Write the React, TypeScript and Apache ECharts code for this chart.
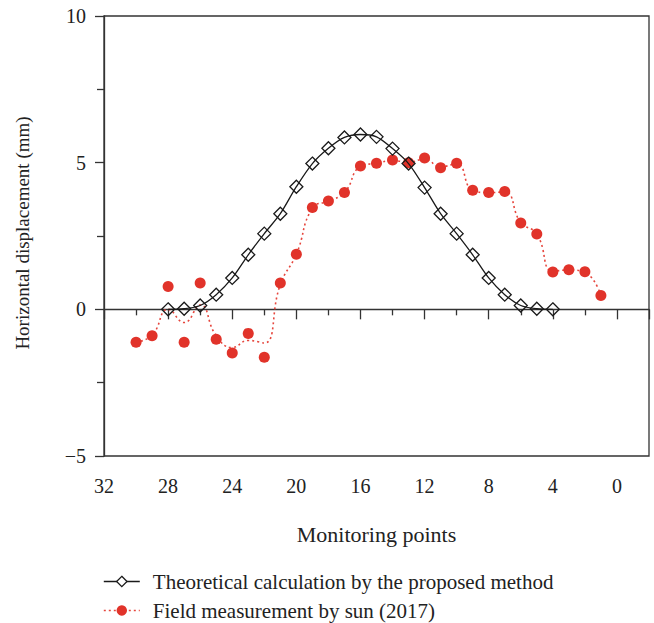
import React, { useEffect, useRef } from "react";
import * as echarts from "echarts";

// x-axis runs from 32 (left) down to -2 (right)
const X_LEFT = 32;
const X_RIGHT = -2;
const xTickLabels = [32, 28, 24, 20, 16, 12, 8, 4, 0];
const yTickLabels = [-5, 0, 5, 10];

const theoName = "Theoretical calculation by the proposed method";
const measName = "Field measurement by sun (2017)";

const theoX = [28, 27, 26, 25, 24, 23, 22, 21, 20, 19, 18, 17, 16, 15, 14, 13, 12, 11, 10, 9, 8, 7, 6, 5, 4];
const theoY = [0, 0.02, 0.13, 0.5, 1.07, 1.86, 2.58, 3.26, 4.18, 4.97, 5.49, 5.86, 5.96, 5.88, 5.48, 4.97, 4.15, 3.26, 2.58, 1.86, 1.07, 0.5, 0.13, 0.02, 0];

const measX = [30, 29, 28, 27, 26, 25, 24, 23, 22, 21, 20, 19, 18, 17, 16, 15, 14, 13, 12, 11, 10, 9, 8, 7, 6, 5, 4, 3, 2, 1];
const measY = [-1.12, -0.9, 0.78, -1.12, 0.9, -1.02, -1.49, -0.82, -1.63, 0.9, 1.88, 3.47, 3.69, 3.98, 4.89, 4.98, 5.09, 5.0, 5.16, 4.83, 4.98, 4.06, 3.98, 4.02, 2.94, 2.57, 1.27, 1.35, 1.28, 0.47];
// the dotted fitted curve at the same monitoring points
const curveY = [-1.12, -0.88, 0.0, -0.45, 0.15, -0.9, -1.3, -1.06, -1.15, 0.85, 1.88, 3.45, 3.69, 3.98, 4.87, 4.98, 5.07, 5.02, 5.12, 4.86, 4.96, 4.06, 3.98, 4.0, 2.96, 2.57, 1.3, 1.34, 1.26, 0.47];

const FONT = "Liberation Serif";
const RED = "#e1332a";
const RED_LINE = "#e6463d";
const BLACK = "#1a1a1a";

const toAxis = (x: number) => X_LEFT - x;

export default function App() {
  const ref = useRef<HTMLDivElement>(null);
  useEffect(() => {
    if (!ref.current) return;
    const chart = echarts.init(ref.current, undefined, { renderer: "svg" });
    const fmtY = (v: number) => (yTickLabels.includes(v) ? (v < 0 ? "\u2212" + Math.abs(v) : String(v)) : "");
    chart.setOption({
      animation: false,
      backgroundColor: "#fff",
      textStyle: { fontFamily: FONT },
      grid: {
        left: 104,
        top: 16,
        right: 5,
        bottom: 167,
        show: true,
        borderColor: "#333",
        borderWidth: 1.3,
      },
      legend: {
        orient: "vertical",
        left: 103,
        top: 571,
        height: 60,
        padding: 0,
        itemWidth: 36,
        itemHeight: 13,
        itemGap: 8,
        textStyle: { fontFamily: FONT, fontSize: 21, color: "#222", lineHeight: 21, padding: [0, 0, 0, 8] },
        data: [
          {
            name: theoName,
            itemStyle: { color: "#fff", borderColor: BLACK, borderWidth: 1.3 },
            lineStyle: { color: BLACK, width: 1.3, type: "solid", opacity: 1 },
          },
          {
            name: measName,
            itemStyle: { color: RED, borderWidth: 0 },
            lineStyle: { color: RED_LINE, width: 1.6, type: [2, 3], opacity: 1 },
          },
        ],
      },
      xAxis: {
        type: "value",
        min: 0,
        max: X_LEFT - X_RIGHT,
        interval: 4,
        name: "Monitoring points",
        nameLocation: "middle",
        nameGap: 67,
        nameTextStyle: { fontFamily: FONT, fontSize: 22, color: "#222" },
        axisLine: { show: true, lineStyle: { color: "#333", width: 1.3 } },
        axisTick: { show: true, length: 10, lineStyle: { color: "#333", width: 1.3 } },
        minorTick: { show: true, splitNumber: 2, length: 6, lineStyle: { color: "#333", width: 1.3 } },
        splitLine: { show: false },
        axisLabel: {
          margin: 20,
          fontFamily: FONT,
          fontSize: 20,
          color: "#222",
          formatter: (v: number) => {
            const x = X_LEFT - v;
            return xTickLabels.includes(x) ? String(x) : "";
          },
        },
      },
      yAxis: {
        type: "value",
        min: -5,
        max: 10,
        interval: 5,
        name: "Horizontal displacement (mm)",
        nameLocation: "middle",
        nameGap: 72,
        nameTextStyle: { fontFamily: FONT, fontSize: 19, color: "#222", padding: [0, 0, 0, 6] },
        axisLine: { show: true, lineStyle: { color: "#333", width: 1.3 } },
        axisTick: { show: true, length: 9, lineStyle: { color: "#333", width: 1.3 } },
        minorTick: { show: true, splitNumber: 2, length: 7, lineStyle: { color: "#333", width: 1.3 } },
        splitLine: { show: false },
        axisLabel: { margin: 18, fontFamily: FONT, fontSize: 20, color: "#222", formatter: fmtY },
      },
      series: [
        {
          name: "curve",
          type: "line",
          data: measX.map((x, i) => [toAxis(x), curveY[i]]),
          symbol: "none",
          smooth: 0.5,
          z: 2,
          lineStyle: { color: RED_LINE, width: 1.6, type: [2, 3] },
          silent: true,
        },
        {
          name: measName,
          type: "line",
          data: measX.map((x, i) => [toAxis(x), measY[i]]),
          symbol: "circle",
          symbolSize: 11,
          showAllSymbol: true,
          z: 3,
          itemStyle: { color: RED },
          lineStyle: { width: 0, opacity: 0 },
        },
        {
          name: theoName,
          type: "line",
          data: theoX.map((x, i) => [toAxis(x), theoY[i]]),
          symbol: "diamond",
          symbolSize: 13,
          showAllSymbol: true,
          smooth: 0.3,
          z: 4,
          itemStyle: { color: "rgba(255,255,255,0)", borderColor: BLACK, borderWidth: 1.3 },
          lineStyle: { color: BLACK, width: 1.3 },
        },
      ],
    });
    return () => chart.dispose();
  }, []);
  return (
    <div
      ref={ref}
      style={{ position: "fixed", left: 0, top: 0, width: 654, height: 623, background: "#fff" }}
    />
  );
}
